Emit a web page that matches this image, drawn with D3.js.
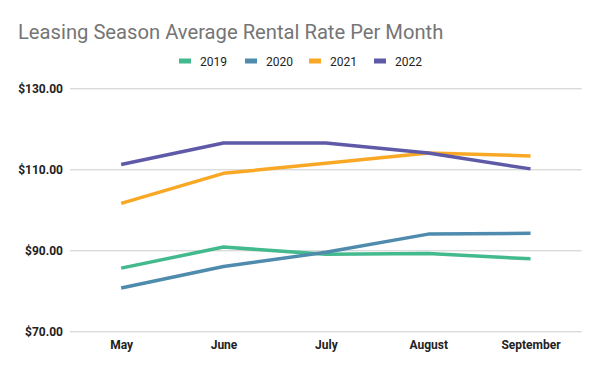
<!DOCTYPE html>
<html><head><meta charset="utf-8">
<script src="https://cdn.jsdelivr.net/npm/d3@7"></script>
<style>body{margin:0;background:#fff;}svg{display:block;font-family:Roboto, sans-serif;}</style>
</head><body><svg id="c" width="600" height="371"></svg>
<script>
const months = ["May", "June", "July", "August", "September"];
const years = ["2019", "2020", "2021", "2022"];
const v2019 = [85.6, 90.8, 89.0, 89.2, 87.9];
const v2020 = [80.7, 86.0, 89.5, 94.0, 94.2];
const v2021 = [101.6, 109.0, 111.5, 114.0, 113.3];
const v2022 = [111.2, 116.5, 116.5, 114.0, 110.1];
const yTicks = [70, 90, 110, 130];
const colors = ["#43b98e", "#4f8bad", "#f9a825", "#5e5aa8"];
const seriesVals = [v2019, v2020, v2021, v2022];

const svg = d3.select("#c");
const m = {l: 70, r: 18.3, t: 88.3, b: 39.7};
const W = 600, H = 371;
const x = d3.scalePoint().domain(months).range([m.l, W - m.r]).padding(0.5);
const y = d3.scaleLinear().domain([70, 130]).range([H - m.b, m.t]);

svg.append("text").attr("x", 18).attr("y", 39).attr("fill", "#757575")
  .attr("font-size", 20.2).text("Leasing Season Average Rental Rate Per Month");

// grid
const yAxis = d3.axisLeft(y).tickValues(yTicks).tickSize(-(W - m.l - m.r)).tickPadding(7)
  .tickFormat(d => "$" + d3.format(",.2f")(d));
const gy = svg.append("g").attr("transform", `translate(${m.l},0)`).call(yAxis);
gy.select(".domain").remove();
gy.selectAll("line").attr("stroke", "#cccccc");
gy.selectAll("text").attr("font-size", 12).attr("font-weight", "bold").attr("fill", "#222").attr("font-family", "Roboto, sans-serif");

const xAxis = d3.axisBottom(x).tickSize(0).tickPadding(9);
const gx = svg.append("g").attr("transform", `translate(0,${H - m.b})`).call(xAxis);
gx.select(".domain").remove();
gx.selectAll("text").attr("font-size", 12).attr("font-weight", "bold").attr("fill", "#222").attr("font-family", "Roboto, sans-serif");

const line = d3.line().x((d, i) => x(months[i])).y(d => y(d));
seriesVals.forEach((vals, k) => {
  svg.append("path").datum(vals).attr("d", line).attr("fill", "none")
    .attr("stroke", colors[k]).attr("stroke-width", 3.5).attr("stroke-linejoin", "round");
});

// legend
const lx = [179, 245, 309, 374];
years.forEach((yr, k) => {
  const g = svg.append("g").attr("transform", `translate(${lx[k]},61)`);
  g.append("rect").attr("x", 0).attr("y", -2.5).attr("width", 12).attr("height", 5).attr("fill", colors[k]);
  g.append("text").attr("x", 21).attr("y", 4.5).attr("font-size", 12).attr("fill", "#222").text(yr);
});
</script></body></html>
